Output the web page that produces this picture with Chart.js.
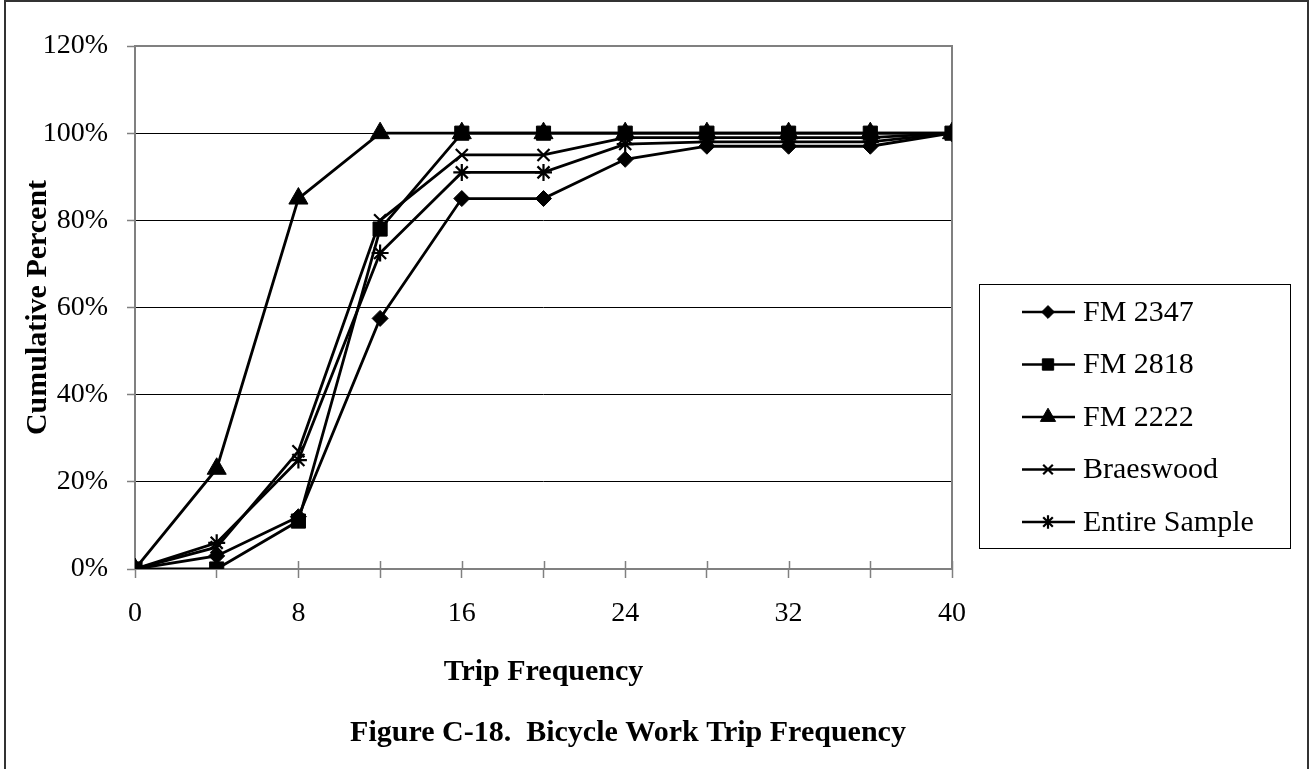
<!DOCTYPE html>
<html>
<head>
<meta charset="utf-8">
<script src="https://cdn.jsdelivr.net/npm/chart.js@4/dist/chart.umd.min.js"></script>
<style>
  body { margin: 0; background: #fff; }
  #wrap { width: 1310px; height: 769px; }
</style>
</head>
<body>
<div id="wrap"><canvas id="chart" width="1310" height="769"></canvas></div>
<script>
const tripFreq = [0, 4, 8, 12, 16, 20, 24, 28, 32, 36, 40];
const fm2347 = [0, 3, 12, 57.5, 85, 85, 94, 97, 97, 97, 100];
const fm2818 = [0, 0, 11, 78, 100, 100, 100, 100, 100, 100, 100];
const fm2222 = [0, 23, 85, 100, 100, 100, 100, 100, 100, 100, 100];
const braeswood = [0, 5, 27, 80, 95, 95, 99, 99, 99, 99, 100];
const entireSample = [0, 6, 25, 72.5, 91, 91, 97.5, 98, 98, 98, 100];
const seriesNames = ["FM 2347", "FM 2818", "FM 2222", "Braeswood", "Entire Sample"];
const xLabelTicks = [0, 8, 16, 24, 32, 40];
const yTicks = [0, 20, 40, 60, 80, 100, 120];

const serif = "'Liberation Serif', 'Times New Roman', serif";

function toPoints(values) {
  return values.map((v, i) => ({ x: tripFreq[i], y: v }));
}

const markers = [
  { pointStyle: "rectRot", radius: 8, width: 1 },
  { pointStyle: "rect", radius: 10, width: 1 },
  { pointStyle: "triangle", radius: 11, width: 1 },
  { pointStyle: "crossRot", radius: 8.5, width: 2.2 },
  { pointStyle: "star", radius: 8.5, width: 2.2 },
];

const allSeries = [fm2347, fm2818, fm2222, braeswood, entireSample];

const datasets = allSeries.map((vals, i) => ({
  label: seriesNames[i],
  data: toPoints(vals),
  borderColor: "#000",
  backgroundColor: "#000",
  borderWidth: 2.8,
  pointStyle: markers[i].pointStyle,
  pointRadius: markers[i].radius,
  pointBorderWidth: markers[i].width,
  pointBackgroundColor: "#000",
  pointBorderColor: "#000",
  order: allSeries.length - i,
}));

// frame, legend box and caption
const extras = {
  id: "extras",
  beforeDatasetsDraw(chart) {
    const { ctx, chartArea } = chart;
    ctx.save();
    ctx.strokeStyle = "#808080";
    ctx.lineWidth = 2;
    ctx.strokeRect(chartArea.left, chartArea.top, chartArea.right - chartArea.left, chartArea.bottom - chartArea.top);
    // x tick marks reach a little above the axis too
    const xs = chart.scales.x;
    ctx.lineWidth = 1.5;
    ctx.beginPath();
    tripFreq.forEach((v) => {
      const px = Math.round(xs.getPixelForValue(v)) + 0.5;
      ctx.moveTo(px, chartArea.bottom - 8);
      ctx.lineTo(px, chartArea.bottom);
    });
    ctx.stroke();
    ctx.restore();
  },
  afterDraw(chart) {
    const ctx = chart.ctx;
    ctx.save();
    // outer page frame
    ctx.strokeStyle = "#333";
    ctx.lineWidth = 2;
    ctx.beginPath();
    ctx.moveTo(5, 769);
    ctx.lineTo(5, 1);
    ctx.lineTo(1308, 1);
    ctx.lineTo(1308, 769);
    ctx.stroke();

    // legend
    ctx.strokeStyle = "#000";
    ctx.lineWidth = 1;
    ctx.strokeRect(979.5, 284.5, 311, 264);
    ctx.font = "30px " + serif;
    ctx.textBaseline = "middle";
    ctx.textAlign = "left";
    chart.data.datasets.forEach((ds, i) => {
      const y = 312 + i * 52.5;
      ctx.strokeStyle = "#000";
      ctx.fillStyle = "#000";
      ctx.lineWidth = 2.5;
      ctx.beginPath();
      ctx.moveTo(1022, y);
      ctx.lineTo(1075, y);
      ctx.stroke();
      ctx.lineWidth = ds.pointBorderWidth;
      Chart.helpers.drawPoint(ctx, {
        pointStyle: ds.pointStyle,
        radius: ds.pointRadius * 0.8,
        borderWidth: ds.pointBorderWidth,
        rotation: 0,
      }, 1048, y);
      ctx.fillStyle = "#000";
      ctx.fillText(ds.label, 1083, y + 1);
    });

    // caption
    ctx.font = "bold 30px " + serif;
    ctx.textAlign = "center";
    ctx.fillText("Figure C-18.  Bicycle Work Trip Frequency", 628, 733);
    ctx.restore();
  },
};

new Chart(document.getElementById("chart"), {
  type: "line",
  data: { datasets: datasets },
  options: {
    responsive: false,
    animation: false,
    layout: { padding: { left: 5, top: 46, right: 358, bottom: 0 } },
    plugins: {
      legend: { display: false },
      tooltip: { enabled: false },
    },
    scales: {
      x: {
        type: "linear",
        min: 0,
        max: 40,
        afterFit: (scale) => { scale.height = 200; },
        afterBuildTicks: (scale) => {
          scale.ticks = tripFreq.map((v) => ({ value: v }));
        },
        ticks: {
          autoSkip: false,
          maxRotation: 0,
          padding: 19,
          color: "#000",
          font: { family: serif, size: 28 },
          callback: (v) => (xLabelTicks.includes(v) ? String(v) : ""),
        },
        grid: {
          drawOnChartArea: false,
          tickLength: 9,
          tickColor: "#808080",
          tickWidth: 1.5,
        },
        border: { display: false },
        title: {
          display: true,
          text: "Trip Frequency",
          color: "#000",
          font: { family: serif, size: 30, weight: "bold" },
          padding: { bottom: 79 },
        },
      },
      y: {
        min: 0,
        max: 120,
        afterFit: (scale) => { scale.width = 130; },
        afterBuildTicks: (scale) => {
          scale.ticks = yTicks.map((v) => ({ value: v }));
        },
        ticks: {
          padding: 19,
          color: "#000",
          font: { family: serif, size: 28 },
          callback: (v) => v + "%",
        },
        grid: {
          color: "#000",
          lineWidth: 1,
          tickLength: 8,
          tickColor: "#808080",
          tickWidth: 1.5,
        },
        border: { display: false },
        title: {
          display: true,
          text: "Cumulative Percent",
          color: "#000",
          font: { family: serif, size: 30, weight: "bold" },
          padding: { top: 15 },
        },
      },
    },
  },
  plugins: [extras],
});
</script>
</body>
</html>
